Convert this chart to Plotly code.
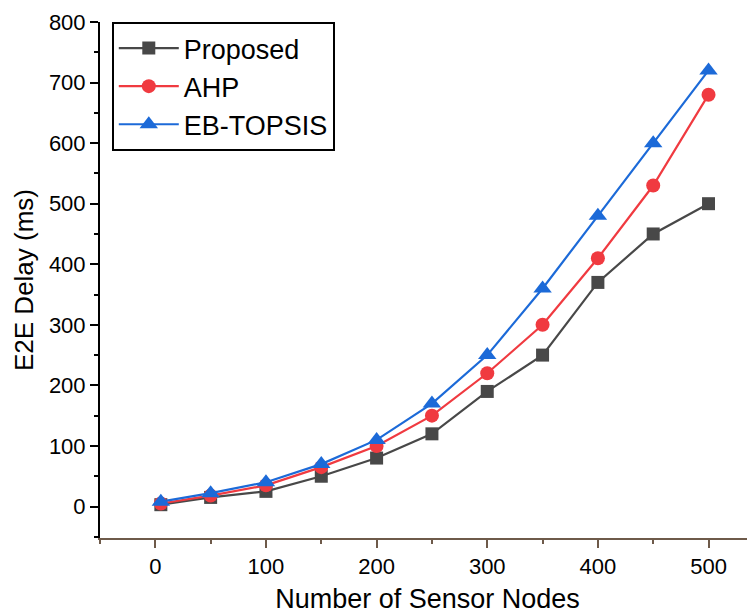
import plotly.graph_objects as go

nodes = [5, 50, 100, 150, 200, 250, 300, 350, 400, 450, 500]
proposed = [3, 15, 25, 50, 80, 120, 190, 250, 370, 450, 500]
ahp = [5, 18, 35, 65, 100, 150, 220, 300, 410, 530, 680]
eb_topsis = [8, 22, 40, 70, 110, 170, 250, 360, 480, 600, 720]

series = [
    ("Proposed", proposed, "#484848", "square", 13),
    ("AHP", ahp, "#f03a40", "circle", 14),
    ("EB-TOPSIS", eb_topsis, "#1c6ad8", "triangle-up", 16),
]

fig = go.Figure()
for name, vals, color, sym, sz in series:
    fig.add_trace(go.Scatter(
        x=nodes, y=vals, name=name, mode="lines+markers",
        line=dict(color=color, width=2.2),
        marker=dict(symbol=sym, size=sz, color=color),
    ))

font = "Liberation Sans, Arial, sans-serif"
fig.update_layout(
    width=747, height=606,
    margin=dict(l=92, r=0, t=14, b=76),
    paper_bgcolor="white", plot_bgcolor="white",
    font=dict(family=font, size=22, color="black"),
    showlegend=True,
    legend=dict(
        x=0.018, y=1.0, xanchor="left", yanchor="top",
        bordercolor="black", borderwidth=2, bgcolor="white",
        font=dict(size=27, family=font), itemwidth=60,
        tracegroupgap=0,
    ),
    xaxis=dict(
        range=[-50, 542], tickvals=[0, 100, 200, 300, 400, 500],
        showgrid=False, zeroline=False, showline=True,
        linecolor="#6e5a4a", linewidth=2,
        ticks="outside", ticklen=8, tickwidth=2, tickcolor="#6e5a4a",
        minor=dict(tickvals=[-50, 50, 150, 250, 350, 450], ticks="outside", ticklen=4, tickwidth=2, tickcolor="#6e5a4a", showgrid=False),
        title=dict(text="Number of Sensor Nodes", font=dict(size=27), standoff=12),
        tickfont=dict(size=22),
    ),
    yaxis=dict(
        range=[-52, 800], tickvals=[0, 100, 200, 300, 400, 500, 600, 700, 800],
        showgrid=False, zeroline=False, showline=True,
        linecolor="black", linewidth=2,
        ticks="outside", ticklen=8, tickwidth=2, tickcolor="black",
        minor=dict(tickvals=[-50, 50, 150, 250, 350, 450, 550, 650, 750], ticks="outside", ticklen=4, tickwidth=2, tickcolor="black", showgrid=False),
        title=dict(text="E2E Delay (ms)", font=dict(size=26), standoff=8),
        tickfont=dict(size=22),
    ),
)

fig.write_html("out.html")
